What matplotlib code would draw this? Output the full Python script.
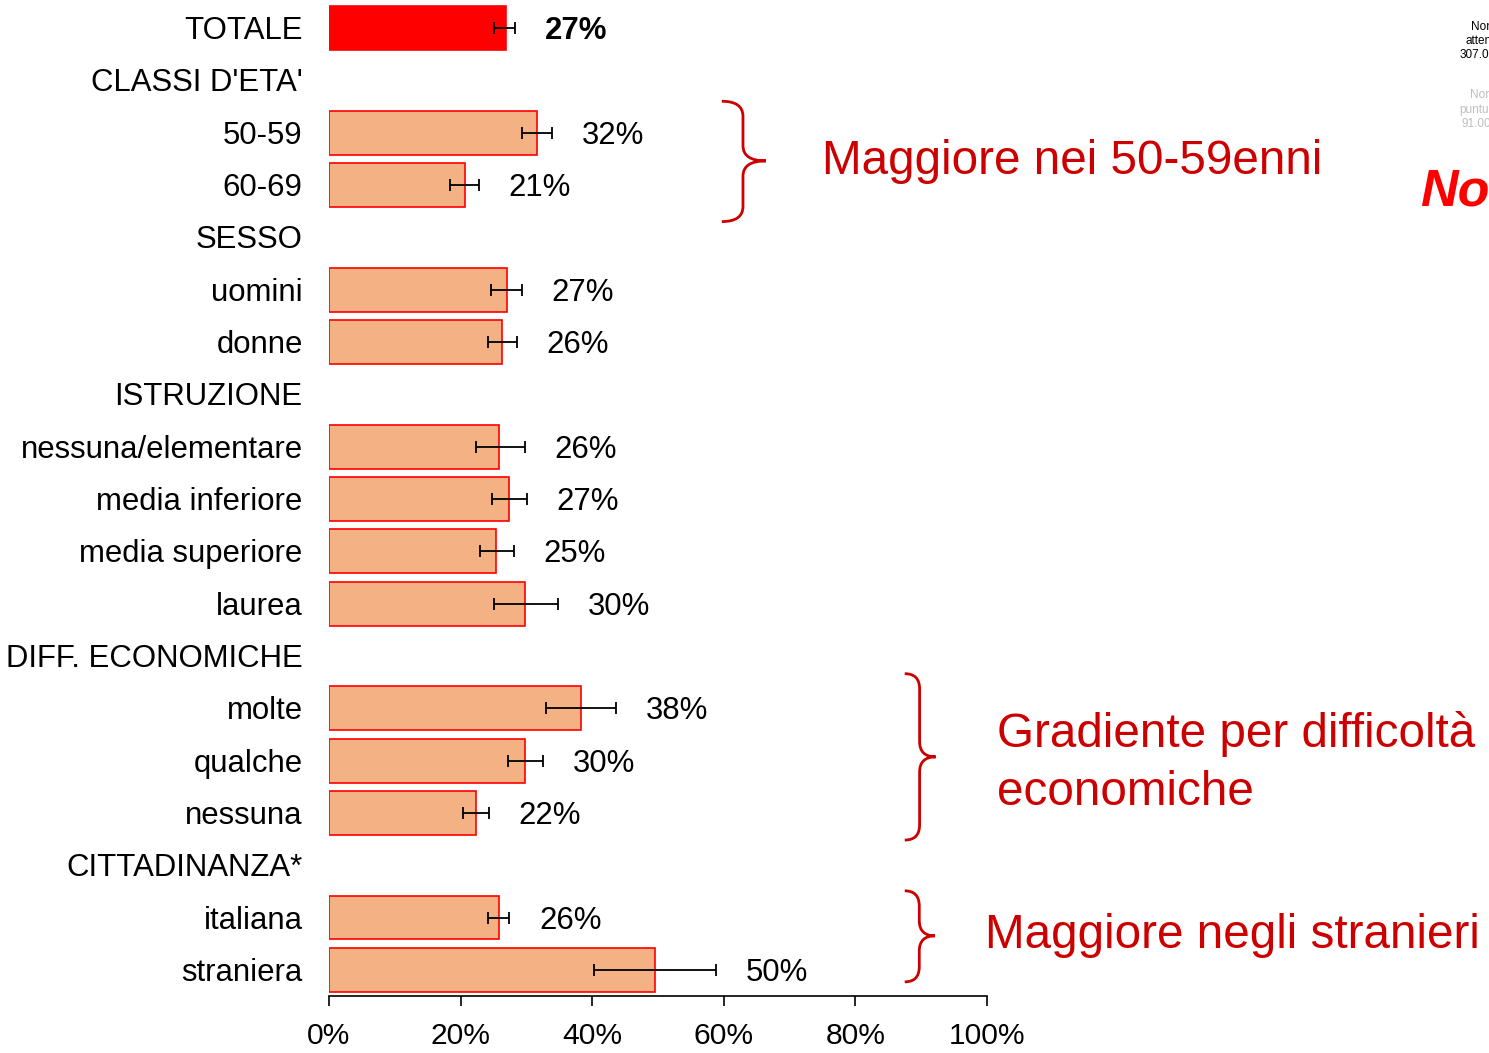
import numpy as np
import matplotlib.pyplot as plt
from matplotlib.path import Path
from matplotlib.patches import PathPatch

plt.rcParams['font.family'] = ['Liberation Sans', 'DejaVu Sans']

# Rows of the chart (group headers have no bar)
labels = ["TOTALE", "CLASSI D'ETA'", "50-59", "60-69", "SESSO", "uomini", "donne",
          "ISTRUZIONE", "nessuna/elementare", "media inferiore", "media superiore", "laurea",
          "DIFF. ECONOMICHE", "molte", "qualche", "nessuna",
          "CITTADINANZA*", "italiana", "straniera"]
values = [26.9, np.nan, 31.6, 20.6, np.nan, 27.0, 26.3, np.nan, 25.8, 27.4, 25.4, 29.8,
          np.nan, 38.3, 29.8, 22.3, np.nan, 25.8, 49.6]
ci_low = [25.1, np.nan, 29.3, 18.4, np.nan, 24.6, 24.2, np.nan, 22.3, 24.8, 22.9, 25.1,
          np.nan, 33.0, 27.2, 20.4, np.nan, 24.2, 40.3]
ci_high = [28.3, np.nan, 33.9, 22.8, np.nan, 29.3, 28.6, np.nan, 29.8, 30.1, 28.1, 34.8,
           np.nan, 43.6, 32.5, 24.3, np.nan, 27.4, 58.8]
xticks = [0, 20, 40, 60, 80, 100]

ann_red = '#CC0000'
bar_fill = '#F4B183'

fig = plt.figure(figsize=(14.89, 10.53), dpi=100)
ax = fig.add_axes([329 / 1489, 57 / 1053, 658 / 1489, 996 / 1053])

y = np.arange(len(labels))
vals = np.array(values)
lo = np.array(ci_low)
hi = np.array(ci_high)
has_bar = ~np.isnan(vals)

colors = ['#FF0000' if i == 0 else bar_fill for i in range(len(labels))]
ax.barh(y[has_bar], vals[has_bar], height=0.84,
        color=[c for c, b in zip(colors, has_bar) if b],
        edgecolor='#FF0000', linewidth=1.2)
ax.errorbar(vals[has_bar], y[has_bar],
            xerr=[vals[has_bar] - lo[has_bar], hi[has_bar] - vals[has_bar]],
            fmt='none', ecolor='black', elinewidth=1.3, capsize=4, capthick=1.3)

for i, lab in enumerate(labels):
    ax.text(-4, i + 0.06, lab, ha='right', va='center', fontsize=22.4, clip_on=False)
    if has_bar[i]:
        ax.text(hi[i] + 4.5, i + 0.06, f"{vals[i]:.0f}%", ha='left', va='center',
                fontsize=22.4, fontweight='bold' if i == 0 else 'normal', clip_on=False)

ax.set_xlim(0, 100)
ax.set_ylim(18.5, -0.535)
ax.set_xticks(xticks)
ax.set_xticklabels([f"{t}%" for t in xticks], fontsize=21.6)
ax.set_yticks([])
for s in ['top', 'right', 'left']:
    ax.spines[s].set_visible(False)
ax.spines['bottom'].set_linewidth(1.2)
ax.tick_params(axis='x', direction='out', length=7, width=1.2, pad=12)


def brace(ax, xl, xr, y0, y1, ym, r=0.29):
    xm = xl + 0.48 * (xr - xl)
    verts = [(xl, y0), (xm, y0), (xm, y0 + r),
             (xm, ym - r), (xm, ym), (xr, ym),
             (xm, ym), (xm, ym + r),
             (xm, y1 - r), (xm, y1), (xl, y1)]
    codes = [Path.MOVETO, Path.CURVE3, Path.CURVE3,
             Path.LINETO, Path.CURVE3, Path.CURVE3,
             Path.CURVE3, Path.CURVE3,
             Path.LINETO, Path.CURVE3, Path.CURVE3]
    ax.add_patch(PathPatch(Path(verts, codes), fill=False, edgecolor=ann_red,
                           linewidth=2, clip_on=False))


brace(ax, 59.7, 66.4, 1.40, 3.70, 2.54)
brace(ax, 87.5, 92.2, 12.34, 15.52, 13.93)
brace(ax, 87.5, 92.1, 16.49, 18.23, 17.35)

ax.text(74.9, 2.55, "Maggiore nei 50-59enni", color=ann_red, fontsize=34.3,
        ha='left', va='center', clip_on=False)
ax.text(101.5, 14.05, "Gradiente per difficoltà\neconomiche", color=ann_red, fontsize=34.3,
        ha='left', va='center', linespacing=1.38, clip_on=False)
ax.text(99.7, 17.34, "Maggiore negli stranieri", color=ann_red, fontsize=34.3,
        ha='left', va='center', clip_on=False)

# cut-off notes at the top right edge
fig.text(1471 / 1489, 1 - 27 / 1053, "Non", fontsize=8.5, va='center', ha='left')
fig.text(1466 / 1489, 1 - 41 / 1053, "attendibile", fontsize=8.5, va='center', ha='left')
fig.text(1460 / 1489, 1 - 55 / 1053, "307.00", fontsize=8.5, va='center', ha='left')
fig.text(1470 / 1489, 1 - 95 / 1053, "Non", fontsize=8.5, va='center', ha='left', color='#BFBFBF')
fig.text(1459 / 1489, 1 - 110 / 1053, "puntuale", fontsize=8.5, va='center', ha='left', color='#BFBFBF')
fig.text(1461 / 1489, 1 - 124 / 1053, "91.00", fontsize=8.5, va='center', ha='left', color='#BFBFBF')
fig.text(1420 / 1489, 1 - 192 / 1053, "Non", fontsize=37.5, fontweight='bold', fontstyle='italic',
         va='center', ha='left', color='#FF0000')

fig.savefig('out.png', dpi=100)
